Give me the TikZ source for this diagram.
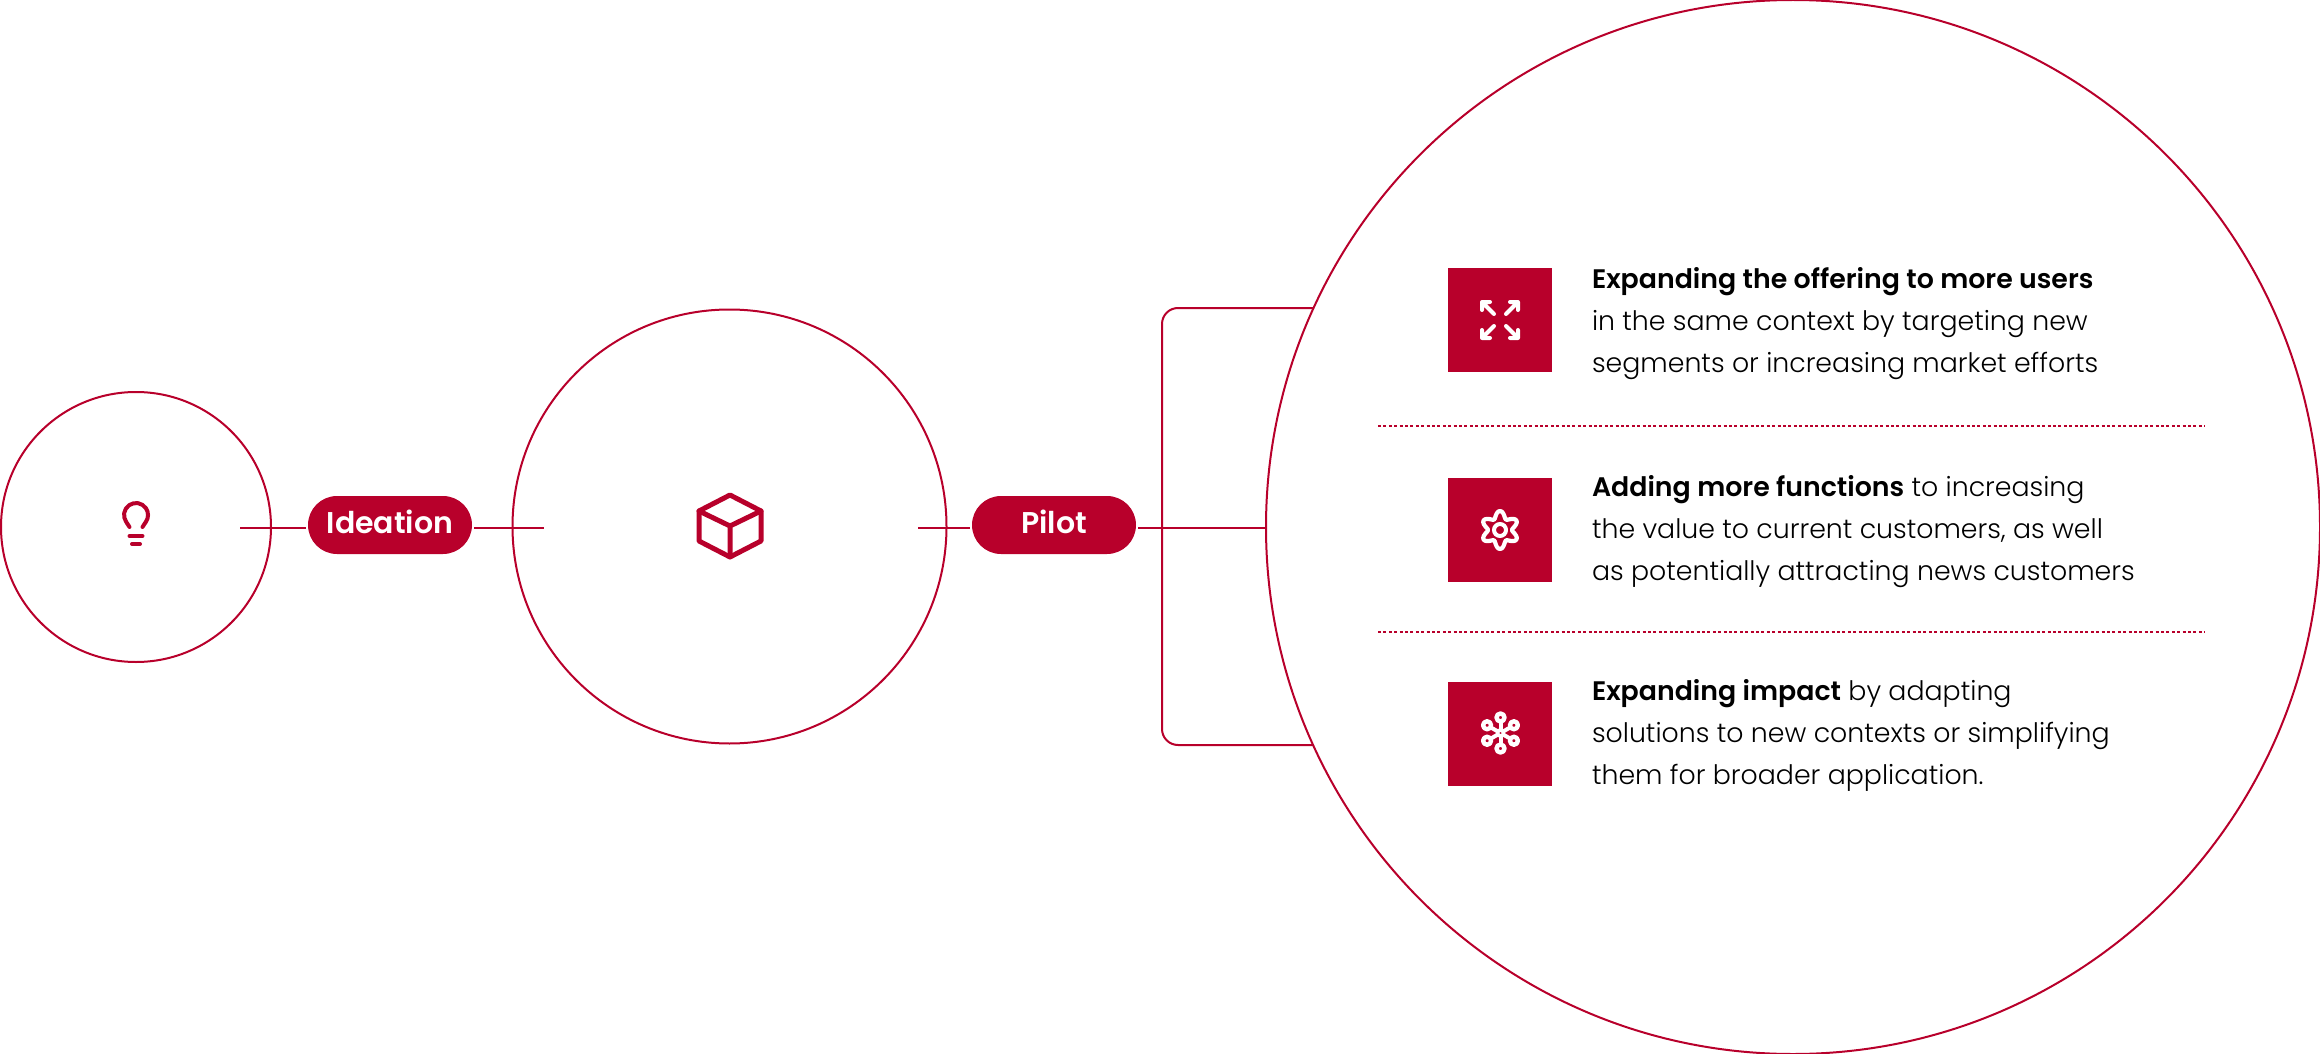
\documentclass[tikz,border=0pt]{standalone}
\usepackage{fontspec}
\setmainfont{Poppins}[UprightFont=* Light,BoldFont=* SemiBold]
\usetikzlibrary{shapes.misc}
\definecolor{brandred}{HTML}{B8002B}

\begin{document}
\begin{tikzpicture}[x=.5pt,y=-.5pt,line width=1pt,draw=brandred,
    ring/.style={circle,draw,inner sep=0pt},
    pill/.style={rounded rectangle,fill=brandred,text=white,inner sep=0pt,outer sep=1pt,
        minimum width=82pt,minimum height=29pt,text height=8.4pt,text depth=0pt,font=\fontsize{15}{18}\bfseries},
    icon box/.style={rectangle,fill=brandred,inner sep=0pt,minimum size=52pt},
    blurb/.style={anchor=west,align=left,inner sep=0pt,text=black,font=\fontsize{13.4}{21}\selectfont},
    red icon/.style={draw=brandred,line width=2pt,line cap=round,line join=round},
    white icon/.style={draw=white,line width=2pt,line cap=round,line join=round}]
    \useasboundingbox (0,0) rectangle (2320,1054);

    \node[ring,minimum size=135pt] (lamp) at (136,527) {};
    \node[ring,minimum size=217pt] (box) at (729.5,526.5) {};
    \node[ring,minimum size=527pt] (big) at (1793,527) {};

    \node[pill] (ideation) at (390,525) {Ideation};
    \node[pill] (pilot) at (1054,525) {Pilot};

    \coordinate (lamp out) at (240,527.5);
    \coordinate (box in) at (544,527.5);
    \coordinate (box out) at (918,527.5);
    \coordinate (trunk) at (1266,527.5);
    \coordinate (upper end) at (1313,308);
    \coordinate (lower end) at (1313,745);

    \draw (lamp out) -- (ideation.west |- lamp out);
    \draw (ideation.east |- box in) -- (box in);
    \draw (box out) -- (pilot.west |- box out);
    \draw (pilot.east |- trunk) -- (trunk);
    \draw[rounded corners=8pt] (upper end) -- (1162,308) -- (1162,745) -- (lower end);

    \node[icon box] (grow) at (1500,320) {};
    \node[icon box] (gear) at (1500,530) {};
    \node[icon box] (net) at (1500,733.5) {};

    \node[blurb] (grow text) at (1591,324) {\textbf{Expanding the offering to more users}\\in the same context by targeting new\\segments or increasing market efforts};
    \node[blurb] (gear text) at (1591,532) {\textbf{Adding more functions} to increasing\\the value to current customers, as well\\as potentially attracting news customers};
    \node[blurb] (net text) at (1591,735) {\textbf{Expanding impact} by adapting\\solutions to new contexts or simplifying\\them for broader application.};

    \coordinate (rule a) at (1378,426);
    \coordinate (rule b) at (2205,426);
    \coordinate (rule c) at (1378,632);
    \coordinate (rule d) at (2205,632);
    \draw[dash pattern=on 1.5pt off 1.2pt] (rule a) -- (rule b);
    \draw[dash pattern=on 1.5pt off 1.2pt] (rule c) -- (rule d);

    \draw[red icon] (129.5,527) -- (126.2,521.9) arc[start angle=145,end angle=395,radius=12] -- (142.5,527);
    \draw[red icon] (129.5,536) -- (142.5,536) (132,544) -- (140,544);

    \draw[red icon,line width=2.5pt] (730,495) -- (761,511) -- (761,541) -- (730,557) -- (699,541) -- (699,511) -- cycle;
    \draw[red icon,line width=2.5pt] (699,511) -- (730,526) -- (761,511) (730,526) -- (730,557);

    \foreach \sx/\sy in {-1/-1,1/-1,-1/1,1/1}
    \draw[white icon] ({1500+\sx*18},{320+\sy*10}) -- ({1500+\sx*18},{320+\sy*18}) -- ({1500+\sx*10},{320+\sy*18})
    ({1500+\sx*18},{320+\sy*18}) -- ({1500+\sx*6},{320+\sy*6});

    \draw[white icon,line width=2.1pt] plot[smooth cycle,samples=72,domain=0:355] ({1500+(15.5+3.5*cos(6*\x))*sin(\x)},{530+(15.5+3.5*cos(6*\x))*cos(\x)});
    \draw[white icon] (1500,530) circle[radius=6];

    \foreach \a in {30,90,150,210,270,330} {
    \draw[white icon] (1500.5,733) -- ++(\a:11.5);
    \draw[white icon,line width=2.2pt,fill=brandred] (1500.5,733) ++(\a:15.5) circle[radius=4];
    }
    \draw[white icon,line width=1.8pt,fill=brandred] (1500.5,733) circle[radius=3];
\end{tikzpicture}
\end{document}
